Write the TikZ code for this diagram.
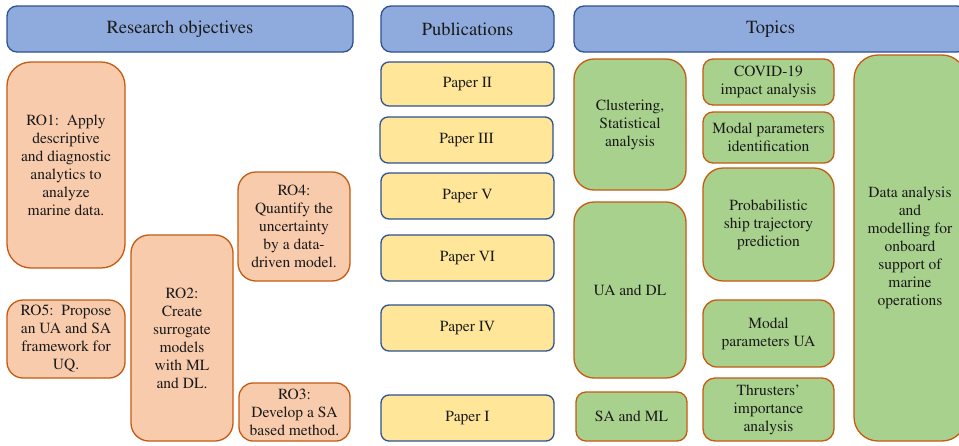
\documentclass[tikz,border=0pt]{standalone}
\usepackage[T1]{fontenc}
\usepackage{mathptmx}
\definecolor{hdrfill}{HTML}{8FAADC}
\definecolor{hdrline}{HTML}{2F528F}
\definecolor{rofill}{HTML}{F8CBAD}
\definecolor{roline}{HTML}{C55A11}
\definecolor{papfill}{HTML}{FFE699}
\definecolor{topfill}{HTML}{A9D18E}
\definecolor{txt}{HTML}{1A1A1A}
% box from (x1,y1) to (x2,y2) in pixel units: style, name, x1, y1, x2, y2, text
\newcommand\boxat[7]{%
  \node[#1, minimum width={(#5-#3)*1pt}, minimum height={(#6-#4)*1pt}]
    (#2) at ({(#3+#5)/2},{(#4+#6)/2}) {#7};}
\tikzset{
  base/.style={draw, line width=1.3pt, inner sep=0pt, align=center,
    text=txt, font=\rmfamily\fontsize{15.5}{18}\selectfont},
  header/.style={base, fill=hdrfill, draw=hdrline, rounded corners=10pt,
    font=\rmfamily\fontsize{18.5}{22}\selectfont},
  objective/.style={base, fill=rofill, draw=roline, rounded corners=#1},
  objective/.default=18pt,
  paper/.style={base, fill=papfill, draw=hdrline, rounded corners=8pt},
  topic/.style={base, fill=topfill, draw=roline, rounded corners=#1},
  topic/.default=18pt
}
\begin{document}
\begin{tikzpicture}[x=1pt, y=-1pt]
\useasboundingbox (0,0) rectangle (959,445);
% column headers
\boxat{header}{hro}{7}{6}{353}{52}{Research objectives}
\boxat{header}{hpub}{381}{6}{554}{52}{Publications}
\boxat{header}{htop}{574}{6}{967}{52}{Topics}
% research objectives
\boxat{objective=24pt}{ro1}{7}{62}{125}{268}{RO1:\ \ Apply\\descriptive\\and diagnostic\\analytics to\\analyze\\marine data.}
\boxat{objective=18pt}{ro4}{238}{172}{350}{281}{RO4:\\Quantify the\\uncertainty\\by a data-\\driven model.}
\boxat{objective=16pt}{ro5}{7}{300}{125}{378}{RO5:\ \ Propose\\an UA and SA\\framework for\\UQ.}
\boxat{objective=18pt}{ro2}{131}{235}{233}{441}{RO2:\\Create\\surrogate\\models\\with ML\\and DL.}
\boxat{objective=14pt}{ro3}{239}{383}{350}{441}{RO3:\\Develop a SA\\based method.}
% publications
\boxat{paper}{p2}{381}{62}{554}{106}{Paper II}
\boxat{paper}{p3}{380}{117}{553}{163}{Paper III}
\boxat{paper}{p5}{381}{173}{554}{219}{Paper V}
\boxat{paper}{p6}{381}{235}{554}{281}{Paper VI}
\boxat{paper}{p4}{381}{305}{554}{351}{Paper IV}
\boxat{paper}{p1}{381}{395}{554}{441}{Paper I}
% topics
\boxat{topic=20pt}{tclu}{574}{59}{686}{190}{Clustering,\\Statistical\\analysis}
\boxat{topic=20pt}{tuadl}{574}{202}{686}{378}{UA and DL}
\boxat{topic=10pt}{tsaml}{576}{392}{687}{441}{SA and ML}
\boxat{topic=10pt}{tcovid}{703}{59}{834}{105}{COVID-19\\impact analysis}
\boxat{topic=10pt}{tmodid}{703}{112}{834}{163}{Modal parameters\\identification}
\boxat{topic=20pt}{tprob}{703}{168}{834}{281}{Probabilistic\\ship trajectory\\prediction}
\boxat{topic=14pt}{tmodua}{703}{300}{834}{367}{Modal\\parameters UA}
\boxat{topic=12pt}{tthr}{703}{378}{834}{441}{Thrusters'\\importance\\analysis}
\boxat{topic=24pt}{tdata}{854}{55}{966}{441}{Data analysis\\and\\modelling for\\onboard\\support of\\marine\\operations}
\end{tikzpicture}
\end{document}
